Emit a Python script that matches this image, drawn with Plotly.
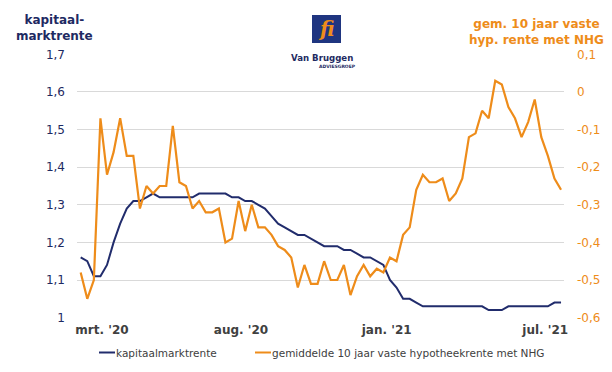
import plotly.graph_objects as go

# ---------------- data ----------------
weeks = list(range(74))  # weekly observations, feb 2020 - jul 2021

kapitaalmarktrente = [
    1.16, 1.15, 1.11, 1.11, 1.14, 1.20, 1.25, 1.29, 1.31, 1.31,
    1.32, 1.33, 1.32, 1.32, 1.32, 1.32, 1.32, 1.32, 1.33, 1.33,
    1.33, 1.33, 1.33, 1.32, 1.32, 1.31, 1.31, 1.30, 1.29, 1.27,
    1.25, 1.24, 1.23, 1.22, 1.22, 1.21, 1.20, 1.19, 1.19, 1.19,
    1.18, 1.18, 1.17, 1.16, 1.16, 1.15, 1.14, 1.10, 1.08, 1.05,
    1.05, 1.04, 1.03, 1.03, 1.03, 1.03, 1.03, 1.03, 1.03, 1.03,
    1.03, 1.03, 1.02, 1.02, 1.02, 1.03, 1.03, 1.03, 1.03, 1.03,
    1.03, 1.03, 1.04, 1.04,
]

hypotheekrente_nhg = [
    -0.48, -0.55, -0.50, -0.07, -0.22, -0.16, -0.07, -0.17, -0.17, -0.31,
    -0.25, -0.27, -0.25, -0.25, -0.09, -0.24, -0.25, -0.31, -0.29, -0.32,
    -0.32, -0.31, -0.40, -0.39, -0.29, -0.37, -0.30, -0.36, -0.36, -0.38,
    -0.41, -0.42, -0.44, -0.52, -0.46, -0.51, -0.51, -0.45, -0.50, -0.50,
    -0.46, -0.54, -0.49, -0.46, -0.49, -0.47, -0.48, -0.44, -0.45, -0.38,
    -0.36, -0.26, -0.22, -0.24, -0.24, -0.23, -0.29, -0.27, -0.23, -0.12,
    -0.11, -0.05, -0.07, 0.03, 0.02, -0.04, -0.07, -0.12, -0.08, -0.02,
    -0.12, -0.17, -0.23, -0.26,
]

x_tick_pos = [3.24, 24.36, 46.5, 70.6]
x_tick_text = ["mrt. '20", "aug. '20", "jan. '21", "jul. '21"]

left_tick_vals = [1.0, 1.1, 1.2, 1.3, 1.4, 1.5, 1.6, 1.7]
left_tick_text = ["1", "1,1", "1,2", "1,3", "1,4", "1,5", "1,6", "1,7"]
right_tick_vals = [-0.6, -0.5, -0.4, -0.3, -0.2, -0.1, 0.0, 0.1]
right_tick_text = ["-0,6", "-0,5", "-0,4", "-0,3", "-0,2", "-0,1", "0", "0,1"]

name_left = "kapitaalmarktrente"
name_right = "gemiddelde 10 jaar vaste hypotheekrente met NHG"

# ---------------- style ----------------
NAVY = "#212C6C"
NAVY_TXT = "#1E2A62"
ORANGE = "#EE8C1A"
GRID = "#D9D9D9"
GREY = "#404040"
FONT = "DejaVu Sans"

W, H = 612, 372
L, R, T, B = 77, 48, 54, 54
PW, PH = W - L - R, H - T - B


def px(xp):
    return (xp - L) / PW


def py(yp):
    return (H - B - yp) / PH


fig = go.Figure()
fig.add_trace(go.Scatter(x=weeks, y=kapitaalmarktrente, mode="lines", name=name_left,
                         line=dict(color=NAVY, width=2), yaxis="y", showlegend=False,
                         hoverinfo="skip"))
fig.add_trace(go.Scatter(x=weeks, y=hypotheekrente_nhg, mode="lines", name=name_right,
                         line=dict(color=ORANGE, width=2.2), yaxis="y2", showlegend=False,
                         hoverinfo="skip"))

fig.update_layout(
    width=W, height=H,
    margin=dict(l=L, r=R, t=T, b=B, pad=0),
    paper_bgcolor="white", plot_bgcolor="white",
    font=dict(family=FONT, size=12, color=GREY),
    xaxis=dict(range=[-0.56, 73.45], tickvals=x_tick_pos, ticktext=x_tick_text,
               showgrid=False, zeroline=False, showline=False, ticks="",
               ticklabelstandoff=3,
               tickfont=dict(family=FONT, size=12, color=GREY, weight="bold")),
    yaxis=dict(range=[0.999, 1.701], tickvals=left_tick_vals, ticktext=left_tick_text,
               showgrid=True, gridcolor=GRID, gridwidth=1, zeroline=False, showline=False,
               ticks="", ticklabelstandoff=11,
               tickfont=dict(family=FONT, size=12, color=NAVY_TXT)),
    yaxis2=dict(range=[-0.601, 0.101], tickvals=right_tick_vals, ticktext=right_tick_text,
                overlaying="y", side="right", showgrid=False, zeroline=False, showline=False,
                ticks="", ticklabelstandoff=12,
                tickfont=dict(family=FONT, size=12, color=ORANGE)),
    showlegend=False,
    hovermode=False,
)

shapes = []
annotations = []

# axis titles
annotations.append(dict(xref="paper", yref="paper", x=px(54.7), y=py(28.5), xanchor="center",
                        yanchor="middle", showarrow=False, align="center",
                        text="<b>kapitaal-<br>marktrente</b>",
                        font=dict(family=FONT, size=12, color=NAVY_TXT)))
annotations.append(dict(xref="paper", yref="paper", x=px(536.7), y=py(31.5), xanchor="center",
                        yanchor="middle", showarrow=False, align="center",
                        text="<b>gem. 10 jaar vaste<br>hyp. rente met NHG</b>",
                        font=dict(family=FONT, size=12, color=ORANGE)))

# logo
shapes.append(dict(type="rect", xref="paper", yref="paper", x0=px(285), x1=px(358),
                   y0=py(70), y1=py(12), fillcolor="white", line=dict(width=0), layer="above"))
shapes.append(dict(type="rect", xref="paper", yref="paper", x0=px(312), x1=px(341),
                   y0=py(43), y1=py(15), fillcolor="#1F3580", line=dict(width=0), layer="above"))
annotations.append(dict(xref="paper", yref="paper", x=px(326.5), y=py(29), xanchor="center",
                        yanchor="middle", showarrow=False,
                        text="<b><i>fi</i></b>", font=dict(family="DejaVu Serif", size=20, color=ORANGE)))
annotations.append(dict(xref="paper", yref="paper", x=px(322), y=py(58), xanchor="center",
                        yanchor="middle", showarrow=False,
                        text="<b>Van Bruggen</b>", font=dict(family=FONT, size=8.6, color=NAVY_TXT)))
annotations.append(dict(xref="paper", yref="paper", x=px(337), y=py(66.5), xanchor="center",
                        yanchor="middle", showarrow=False,
                        text="<b>ADVIESGROEP</b>", font=dict(family=FONT, size=4.5, color=NAVY_TXT)))

# legend (manual)
ly = 352.5
for x0, color, label in [(99, NAVY, name_left), (255, ORANGE, name_right)]:
    shapes.append(dict(type="line", xref="paper", yref="paper", x0=px(x0), x1=px(x0 + 16),
                       y0=py(ly), y1=py(ly), line=dict(color=color, width=2)))
    annotations.append(dict(xref="paper", yref="paper", x=px(x0 + 15), y=py(ly), xanchor="left",
                            yanchor="middle", showarrow=False, text=label,
                            font=dict(family=FONT, size=10.5, color=GREY)))

fig.update_layout(shapes=shapes, annotations=annotations)
fig.write_html("out.html",
               config={"displayModeBar": False, "staticPlot": True},
               post_script="document.body.style.margin='0';document.body.style.overflow='hidden';")
